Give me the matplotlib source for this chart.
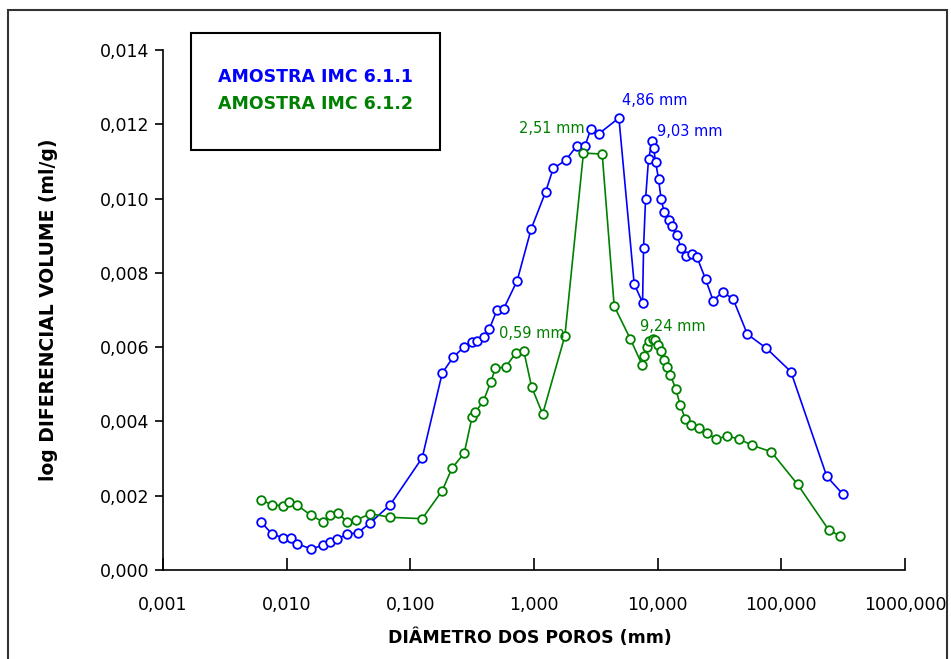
import matplotlib
matplotlib.use("Agg")
from matplotlib import pyplot as plt
from matplotlib.patches import Rectangle
from matplotlib.ticker import FuncFormatter, FixedLocator

# AMOSTRA IMC 6.1.1 (blue)
diam_611 = [0.00619, 0.0076, 0.00929, 0.01076, 0.01205, 0.0157, 0.0196, 0.0224, 0.0256, 0.0309,
            0.0375, 0.0471, 0.0689, 0.1247, 0.181, 0.222, 0.273, 0.316, 0.345, 0.392,
            0.435, 0.501, 0.568, 0.731, 0.948, 1.241, 1.430, 1.80, 2.21, 2.58,
            2.88, 3.33, 4.86, 6.46, 7.55, 7.69, 7.98, 8.44, 9.03, 9.27,
            9.62, 10.17, 10.67, 11.29, 12.33, 13.10, 14.29, 15.49, 16.99, 18.8,
            20.8, 24.4, 28.1, 33.5, 40.8, 53.1, 75.7, 119.4, 233.0, 312.6]
vol_611 = [0.00130, 0.00097, 0.00087, 0.00087, 0.00071, 0.00057, 0.00066, 0.00076, 0.00083, 0.00097,
           0.00100, 0.00126, 0.00176, 0.00302, 0.00530, 0.00573, 0.00601, 0.00614, 0.00617, 0.00627,
           0.00649, 0.00699, 0.00703, 0.00779, 0.00918, 0.01018, 0.01081, 0.01103, 0.01141, 0.01141,
           0.01187, 0.01174, 0.01217, 0.00770, 0.00720, 0.00868, 0.00998, 0.01107, 0.01154, 0.01136,
           0.01099, 0.01052, 0.00998, 0.00964, 0.00943, 0.00925, 0.00901, 0.00867, 0.00845, 0.00850,
           0.00842, 0.00783, 0.00725, 0.00749, 0.00729, 0.00635, 0.00597, 0.00534, 0.00252, 0.00205]

# AMOSTRA IMC 6.1.2 (green)
diam_612 = [0.00619, 0.00761, 0.00929, 0.0105, 0.01205, 0.0157, 0.0196, 0.0223, 0.0258, 0.0307,
            0.0365, 0.0474, 0.0689, 0.1247, 0.181, 0.217, 0.273, 0.316, 0.336, 0.390,
            0.446, 0.488, 0.59, 0.714, 0.828, 0.957, 1.175, 1.778, 2.51, 3.56,
            4.45, 6.00, 7.52, 7.73, 8.15, 8.57, 9.24, 9.58, 10.14, 10.66,
            11.20, 11.91, 12.64, 14.03, 15.17, 16.67, 18.54, 21.6, 25.0, 29.7,
            36.3, 45.6, 58.1, 82.8, 135.2, 241.0, 297.0]
vol_612 = [0.001884, 0.001758, 0.001731, 0.001839, 0.001758, 0.001472, 0.001300, 0.001480, 0.001542, 0.001300,
           0.001346, 0.001515, 0.001419, 0.001381, 0.002135, 0.002738, 0.003149, 0.004126, 0.004253, 0.004549,
           0.005052, 0.005437, 0.005464, 0.005849, 0.005887, 0.004926, 0.004199, 0.006307, 0.011225, 0.011198,
           0.007106, 0.006226, 0.005510, 0.005760, 0.006011, 0.006159, 0.006231, 0.006183, 0.006057, 0.005890,
           0.005653, 0.005464, 0.005257, 0.004872, 0.004455, 0.004078, 0.003911, 0.003828, 0.003696, 0.003526,
           0.003607, 0.003526, 0.003357, 0.003184, 0.002307, 0.001085, 0.000915]

x_ticks = [0.001, 0.01, 0.1, 1, 10, 100, 1000]
y_ticks = [0.000, 0.002, 0.004, 0.006, 0.008, 0.010, 0.012, 0.014]

# peak labels: (text, index of point, offset in pixels, alignment)
peaks_611 = [("4,86 mm", 32, (3, 17), "left"), ("9,03 mm", 38, (5, 10), "left")]
peaks_612 = [("2,51 mm", 28, (1, 25), "right"), ("0,59 mm", 24, (-25, 18), "left"),
             ("9,24 mm", 36, (-13, 12), "left")]

blue = "#0000FF"
green = "#008000"

plt.rcParams['font.family'] = ['DejaVu Sans']
fig = plt.figure(figsize=(9.51, 6.59), dpi=100)
ax = fig.add_axes([163 / 951, 89 / 659, 742 / 951, 520 / 659])

ax.plot(diam_611, vol_611, color=blue, lw=1.2, marker="o", ms=6.2,
        mfc="white", mec=blue, mew=1.3)
ax.plot(diam_612, vol_612, color=green, lw=1.2, marker="o", ms=6.2,
        mfc="white", mec=green, mew=1.3)

ax.set_xscale("log")
ax.set_xlim(0.001, 1000)
ax.set_ylim(0, 0.014)
ax.xaxis.set_major_locator(FixedLocator(x_ticks))
ax.xaxis.set_minor_locator(FixedLocator([]))
ax.set_yticks(y_ticks)
ax.xaxis.set_major_formatter(FuncFormatter(lambda v, p: f"{v:.3f}".replace(".", ",")))
ax.yaxis.set_major_formatter(FuncFormatter(lambda v, p: f"{v:.3f}".replace(".", ",")))
ax.tick_params(axis="x", direction="in", length=9, width=1.2, pad=19, labelsize=12.5)
ax.tick_params(axis="y", direction="out", length=6, width=1.2, pad=4, labelsize=12.5)
ax.spines["top"].set_visible(False)
ax.spines["right"].set_visible(False)
ax.spines["left"].set_linewidth(1.2)
ax.spines["bottom"].set_linewidth(1.2)

ax.set_xlabel("DIÂMETRO DOS POROS (mm)", fontsize=12.5, fontweight="bold")
ax.set_ylabel("log DIFERENCIAL VOLUME (ml/g)", fontsize=13.5, fontweight="bold")
ax.xaxis.set_label_coords(0.495, -0.113)
ax.yaxis.set_label_coords(-0.1415, 0.5)

for txt, i, off, ha in peaks_611:
    ax.annotate(txt, (diam_611[i], vol_611[i]), xytext=off, textcoords="offset pixels",
                ha=ha, va="center", color=blue, fontsize=10.5)
for txt, i, off, ha in peaks_612:
    ax.annotate(txt, (diam_612[i], vol_612[i]), xytext=off, textcoords="offset pixels",
                ha=ha, va="center", color=green, fontsize=10.5)

# legend box
fig.patches.append(Rectangle((191 / 951, 1 - 150 / 659), 249 / 951, 117 / 659,
                             transform=fig.transFigure, fill=False, ec="black", lw=1.5))
fig.text(218 / 951, 1 - 77 / 659, "AMOSTRA IMC 6.1.1", color=blue, fontsize=12.5,
         fontweight="bold", va="center", ha="left")
fig.text(218 / 951, 1 - 104 / 659, "AMOSTRA IMC 6.1.2", color=green, fontsize=12.5,
         fontweight="bold", va="center", ha="left")

# outer chart border
fig.patches.append(Rectangle((8 / 951, -0.05), 939 / 951, 1.05 - 10 / 659,
                             transform=fig.transFigure, fill=False, ec="#333333", lw=1.5))

fig.savefig("out.png", dpi=100)
